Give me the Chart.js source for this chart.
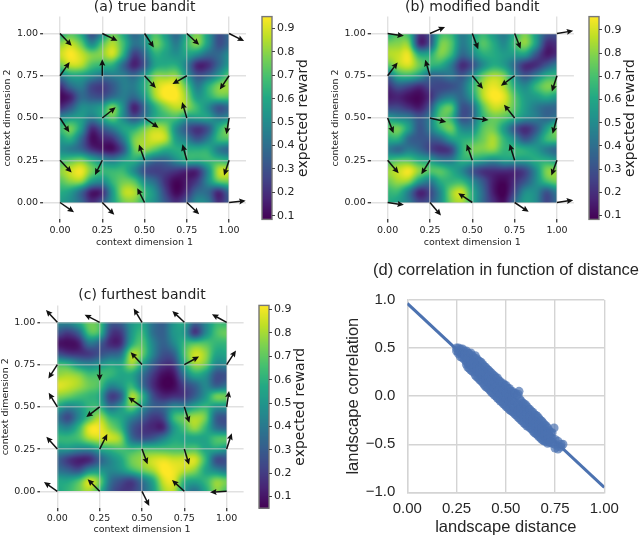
<!DOCTYPE html>
<html>
<head>
<meta charset="utf-8">
<script src="https://cdn.jsdelivr.net/npm/chart.js@4"></script>
<style>
html, body { margin: 0; background: #fff; overflow: hidden; width: 640px; height: 537px; }
canvas { position: absolute; }
</style>
</head>
<body>
<canvas id="heatA" style="left:0;top:0" width="290" height="250"></canvas>
<canvas id="barA" style="left:255px;top:0" width="65" height="250"></canvas>
<canvas id="heatB" style="left:328px;top:0" width="262" height="250"></canvas>
<canvas id="barB" style="left:583px;top:0" width="57" height="250"></canvas>
<canvas id="heatC" style="left:-2px;top:288px" width="262" height="249"></canvas>
<canvas id="barC" style="left:252px;top:288px" width="65" height="249"></canvas>
<canvas id="corr" style="left:340px;top:255px" width="332" height="282"></canvas>
<script>
// landscape grids, top row is context dimension 2 = 1.00, step 1/16
const rewardA = [
  [.6,.72,.6,.3,.5,.75,.6,.38,.5,.7,.55,.38,.6,.78,.55,.3,.38],
  [.8,.87,.75,.5,.72,.85,.68,.42,.5,.75,.62,.45,.66,.78,.55,.3,.38],
  [.88,.95,.88,.78,.8,.88,.62,.25,.38,.62,.58,.52,.58,.5,.38,.38,.5],
  [.75,.87,.85,.7,.65,.62,.38,.17,.32,.58,.62,.62,.45,.18,.2,.38,.55],
  [.45,.58,.58,.5,.42,.45,.45,.38,.55,.78,.8,.8,.55,.32,.38,.55,.72],
  [.2,.38,.45,.28,.24,.33,.45,.45,.62,.85,.94,.92,.72,.45,.62,.78,.82],
  [.1,.17,.38,.32,.3,.4,.45,.38,.55,.82,.95,.95,.8,.55,.62,.72,.72],
  [.2,.32,.5,.5,.58,.77,.5,.17,.38,.62,.78,.86,.8,.66,.5,.32,.38],
  [.5,.56,.56,.45,.58,.72,.5,.32,.45,.62,.68,.68,.55,.56,.56,.45,.5],
  [.66,.76,.55,.2,.32,.45,.58,.62,.76,.85,.8,.5,.32,.22,.32,.62,.78],
  [.56,.62,.38,.12,.17,.22,.45,.76,.84,.9,.85,.56,.45,.32,.45,.66,.7],
  [.5,.45,.38,.22,.15,.13,.32,.72,.8,.72,.62,.62,.62,.62,.62,.45,.38],
  [.66,.72,.76,.62,.5,.45,.56,.62,.5,.38,.38,.5,.62,.62,.66,.66,.62],
  [.8,.88,.93,.76,.66,.66,.66,.5,.3,.25,.25,.22,.18,.2,.5,.85,.88],
  [.72,.8,.8,.56,.5,.66,.76,.72,.5,.38,.2,.1,.15,.25,.5,.72,.76],
  [.62,.56,.38,.15,.2,.56,.84,.85,.66,.5,.25,.1,.2,.38,.38,.2,.38],
  [.56,.5,.38,.2,.32,.56,.76,.78,.62,.5,.32,.2,.32,.5,.45,.2,.32]
];
const rewardB = [
  [.62,.72,.66,.22,.3,.66,.66,.45,.56,.66,.55,.45,.62,.78,.56,.32,.3],
  [.78,.8,.78,.2,.32,.76,.72,.45,.56,.72,.62,.5,.68,.8,.56,.2,.2],
  [.85,.88,.92,.62,.62,.78,.66,.38,.48,.62,.62,.56,.56,.56,.32,.15,.2],
  [.72,.85,.9,.76,.66,.62,.45,.2,.3,.5,.62,.56,.38,.2,.2,.32,.45],
  [.38,.62,.66,.56,.38,.38,.42,.32,.5,.75,.85,.78,.5,.32,.45,.62,.66],
  [.2,.32,.27,.2,.27,.27,.3,.38,.62,.85,.93,.85,.62,.5,.66,.78,.76],
  [.15,.17,.12,.1,.2,.38,.45,.38,.56,.85,.96,.92,.72,.56,.56,.62,.56],
  [.27,.27,.2,.15,.32,.66,.72,.32,.38,.72,.88,.85,.72,.56,.45,.38,.38],
  [.56,.5,.45,.32,.45,.72,.66,.32,.38,.66,.76,.72,.62,.5,.45,.38,.45],
  [.72,.76,.56,.32,.45,.66,.76,.5,.5,.72,.76,.56,.32,.2,.32,.56,.76],
  [.62,.62,.38,.32,.32,.38,.56,.62,.66,.76,.84,.66,.5,.32,.45,.66,.72],
  [.45,.38,.45,.38,.27,.2,.27,.62,.76,.78,.8,.66,.66,.62,.56,.45,.38],
  [.66,.72,.72,.62,.56,.45,.45,.62,.62,.56,.5,.56,.56,.56,.62,.62,.56],
  [.82,.88,.94,.8,.72,.72,.62,.5,.32,.22,.2,.2,.2,.27,.5,.78,.8],
  [.76,.83,.8,.56,.45,.62,.66,.66,.5,.32,.15,.1,.2,.32,.5,.68,.76],
  [.66,.66,.45,.18,.27,.5,.8,.88,.62,.38,.15,.08,.27,.5,.5,.32,.45],
  [.62,.56,.45,.27,.32,.5,.78,.84,.62,.38,.2,.12,.38,.56,.5,.27,.38]
];
const rewardC = [
  [.45,.45,.56,.72,.66,.32,.32,.5,.56,.38,.32,.5,.56,.32,.45,.62,.62],
  [.27,.2,.32,.66,.62,.22,.2,.5,.62,.38,.32,.5,.5,.2,.45,.66,.72],
  [.1,.08,.12,.38,.32,.15,.17,.56,.68,.45,.32,.45,.62,.68,.68,.62,.62],
  [.27,.2,.18,.2,.27,.32,.38,.8,.72,.45,.27,.32,.66,.85,.78,.56,.56],
  [.66,.62,.5,.45,.5,.56,.56,.78,.56,.32,.18,.2,.56,.78,.72,.45,.45],
  [.78,.8,.76,.66,.66,.62,.56,.56,.38,.2,.08,.1,.38,.56,.5,.27,.27],
  [.88,.85,.8,.72,.66,.45,.5,.62,.38,.17,.06,.07,.22,.32,.45,.32,.38],
  [.76,.72,.66,.62,.56,.22,.32,.8,.62,.27,.15,.17,.2,.32,.5,.72,.72],
  [.56,.45,.5,.62,.62,.38,.5,.72,.5,.32,.32,.45,.45,.56,.62,.5,.5],
  [.38,.25,.45,.66,.8,.62,.56,.45,.32,.2,.25,.62,.72,.8,.72,.32,.27],
  [.5,.45,.62,.88,.9,.76,.62,.32,.2,.15,.15,.5,.66,.78,.62,.38,.32],
  [.62,.62,.66,.8,.85,.85,.76,.38,.27,.3,.42,.56,.56,.56,.56,.66,.68],
  [.5,.5,.45,.45,.56,.62,.66,.62,.66,.66,.66,.66,.66,.68,.56,.56,.5],
  [.32,.2,.13,.15,.32,.45,.56,.72,.78,.85,.88,.85,.85,.86,.62,.27,.27],
  [.38,.32,.27,.45,.5,.45,.5,.62,.72,.8,.92,.9,.83,.76,.56,.45,.38],
  [.56,.56,.66,.85,.72,.38,.27,.22,.38,.56,.85,.88,.62,.56,.62,.76,.72],
  [.56,.62,.72,.8,.62,.32,.2,.2,.32,.5,.78,.82,.5,.38,.56,.76,.66]
];

// arrow offsets, rows from y = 1.00 down to 0.00, columns x = 0 .. 1
const arrowPos = [0, 0.25, 0.5, 0.75, 1];
const arrowsAdx = [.069,.09,.055,.073,.089, .057,0,.067,-.085,-.055, .055,.079,.083,-.028,-.016, .069,-.043,-.033,-.026,-.03, .083,.071,-.043,.073,.098];
const arrowsAdy = [-.073,-.043,-.083,-.067,-.045, .081,.098,-.073,-.049,-.081, -.085,.063,-.057,.094,-.096, -.073,-.087,.093,.094,-.09, -.057,-.073,.085,-.069,.01];
const arrowsBdx = [.096,.089,.035,.035,.096, .059,-.028,.063,-.081,-.03, .035,.096,.096,-.063,-.026, .065,-.051,-.033,-.03,-.033, .096,.065,-.083,.083,.096];
const arrowsBdy = [-.014,.039,-.093,-.09,.016, .079,.094,-.077,-.059,-.093, -.09,-.024,-.012,.079,-.093, -.077,-.083,.094,.096,-.09, -.014,-.077,.055,-.055,.014];
const arrowsCdx = [-.067,-.089,-.049,-.071,-.087, -.053,0,-.067,.087,.055, -.051,-.079,-.081,.03,.014, -.065,.045,.033,.028,.03, -.079,-.071,.043,-.073,-.098];
const arrowsCdy = [.073,.045,.081,.067,.047, -.083,-.096,.073,.047,.083, .083,-.061,.057,-.094,.094, .073,.089,-.09,-.093,.093, .055,.071,-.087,.067,-.006];

const contextTicks = [0, 0.25, 0.5, 0.75, 1];
const rewardTicks = [0.1, 0.2, 0.3, 0.4, 0.5, 0.6, 0.7, 0.8, 0.9];

const corrTicksX = [0, 0.25, 0.5, 0.75, 1];
const corrTicksY = [-1, -0.5, 0, 0.5, 1];
const fitX = [0, 1];
const fitY = [0.965, -0.95];
const distances = [.25,.25,.26,.26,.26,.27,.27,.27,.28,.28,.28,.29,.29,.29,.30,.30,.30,.30,.315,.315,.315,.315,.33,.33,.33,.33,.345,.345,.345,.345,.36,.36,.36,.36,.375,.375,.375,.375,.39,.39,.39,.39,.405,.405,.405,.405,.42,.42,.42,.42,.435,.435,.435,.435,.45,.45,.45,.45,.465,.465,.465,.465,.48,.48,.48,.48,.495,.495,.495,.495,.51,.51,.51,.51,.525,.525,.525,.525,.54,.54,.54,.54,.555,.555,.555,.555,.567,.57,.57,.57,.57,.585,.585,.585,.585,.60,.60,.60,.60,.615,.615,.615,.615,.63,.63,.63,.63,.645,.645,.645,.645,.66,.66,.66,.66,.675,.675,.675,.675,.69,.69,.69,.69,.705,.705,.705,.705,.72,.72,.72,.72,.735,.735,.735,.745,.75,.75,.75,.765,.765,.765,.78,.78,.79,
  .2925,.2925,.3075,.3075,.3075,.3075,.3225,.3225,.3225,.3225,.3375,.3375,.3375,.3375,.3525,.3525,.3525,.3525,.3675,.3675,.3675,.3675,.3825,.3825,.3825,.3825,.3975,.3975,.3975,.3975,.4125,.4125,.4125,.4125,.4275,.4275,.4275,.4275,.4425,.4425,.4425,.4425,.4575,.4575,.4575,.4575,.4725,.4725,.4725,.4725,.4875,.4875,.4875,.4875,.5025,.5025,.5025,.5025,.5175,.5175,.5175,.5175,.5325,.5325,.5325,.5325,.5475,.5475,.5475,.5475,.5625,.5625,.5625,.5625,.5775,.5775,.5775,.5775,.5925,.5925,.5925,.5925,.6075,.6075,.6075,.6075,.6225,.6225,.6225,.6225,.6375,.6375,.6375,.6375,.6525,.6525,.6525,.6525,.6675,.6675,.6675,.6675,.6825,.6825,.6825,.6825,.6975,.6975,.6975,.6975,.7125,.7125,.7125,.7125,.7275,.7275,.7275];
const correlations = [.50,.47,.50,.46,.44,.49,.45,.41,.49,.44,.40,.47,.42,.38,.47,.41,.36,.33,.44,.38,.33,.29,.42,.36,.31,.26,.42,.34,.28,.22,.37,.31,.25,.19,.35,.28,.22,.16,.31,.25,.18,.12,.28,.22,.16,.09,.25,.19,.13,.06,.22,.16,.09,.03,.19,.13,.06,.00,.16,.10,.03,-.03,.13,.07,.01,-.06,.11,.04,-.02,-.09,.08,.02,-.05,-.12,.05,-.02,-.08,-.15,.03,-.05,-.11,-.17,.01,-.07,-.14,-.20,.05,-.03,-.10,-.17,-.23,-.07,-.13,-.20,-.26,-.09,-.16,-.22,-.29,-.13,-.19,-.25,-.31,-.16,-.22,-.28,-.34,-.19,-.25,-.31,-.38,-.21,-.28,-.34,-.40,-.25,-.31,-.37,-.43,-.28,-.34,-.40,-.46,-.31,-.37,-.43,-.47,-.36,-.41,-.46,-.48,-.38,-.44,-.49,-.33,-.45,-.50,-.54,-.47,-.52,-.55,-.50,-.53,-.50,
  .44,.40,.45,.39,.34,.30,.45,.37,.32,.27,.40,.35,.29,.25,.39,.31,.26,.20,.36,.29,.23,.17,.33,.26,.20,.14,.30,.24,.17,.10,.27,.20,.14,.08,.24,.17,.11,.04,.21,.15,.08,.01,.19,.11,.05,-.02,.15,.09,.02,-.05,.13,.06,-.01,-.08,.11,.03,-.03,-.11,.08,.00,-.06,-.14,.05,-.03,-.09,-.16,.03,-.06,-.13,-.19,.02,-.09,-.15,-.22,-.05,-.12,-.19,-.25,-.08,-.15,-.21,-.28,-.11,-.18,-.24,-.31,-.14,-.21,-.27,-.33,-.17,-.24,-.30,-.36,-.20,-.27,-.33,-.39,-.23,-.30,-.36,-.42,-.26,-.33,-.39,-.45,-.30,-.36,-.42,-.47,-.33,-.39,-.45,-.49,-.38,-.43,-.48];

const viridisStops = ['#440154','#482475','#414487','#355f8d','#2a788e','#21918c','#22a884','#44bf70','#7ad151','#bddf26','#fde725'];
const viridisRgb = viridisStops.map(h => [1, 3, 5].map(i => parseInt(h.substr(i, 2), 16)));

function viridis(t) {
    t = Math.max(0, Math.min(1, t)) * (viridisRgb.length - 1);
    let i = Math.min(Math.floor(t), viridisRgb.length - 2);
    let f = t - i;
    return viridisRgb[i].map((c, k) => c + (viridisRgb[i + 1][k] - c) * f);
}

function cubic(a, b, c, d, t) {
    return 0.5 * (2 * b + (c - a) * t + (2 * a - 5 * b + 4 * c - d) * t * t + (3 * b - a - 3 * c + d) * t * t * t);
}

function sampleGrid(grid, u, v) {
    let n = grid.length - 1;
    let fx = u * n, fy = v * n;
    let ix = Math.min(Math.floor(fx), n - 1), iy = Math.min(Math.floor(fy), n - 1);
    let col = [];
    for (let r = -1; r <= 2; r++) {
        let row = grid[Math.max(0, Math.min(n, iy + r))];
        let at = k => row[Math.max(0, Math.min(n, ix + k))];
        col.push(cubic(at(-1), at(0), at(1), at(2), fx - ix));
    }
    return cubic(col[0], col[1], col[2], col[3], fy - iy);
}

function heatPlugin(grid, vmin, vmax) {
    return {
        id: 'heat',
        beforeDraw(chart) {
            let xs = chart.scales.x, ys = chart.scales.y;
            let x0 = xs.getPixelForValue(0), x1 = xs.getPixelForValue(1);
            let y1 = ys.getPixelForValue(1), y0 = ys.getPixelForValue(0);
            let w = Math.round(x1 - x0), h = Math.round(y0 - y1);
            let off = document.createElement('canvas');
            off.width = w; off.height = h;
            let octx = off.getContext('2d');
            let img = octx.createImageData(w, h);
            for (let j = 0; j < h; j++) {
                for (let i = 0; i < w; i++) {
                    let val = sampleGrid(grid, (i + 0.5) / w, (j + 0.5) / h);
                    let c = viridis((val - vmin) / (vmax - vmin));
                    let p = (j * w + i) * 4;
                    img.data[p] = c[0]; img.data[p + 1] = c[1]; img.data[p + 2] = c[2]; img.data[p + 3] = 255;
                }
            }
            octx.putImageData(img, 0, 0);
            chart.ctx.drawImage(off, x0, y1, x1 - x0, y0 - y1);
        }
    };
}

function quiverPlugin(dx, dy) {
    return {
        id: 'quiver',
        afterDatasetsDraw(chart) {
            let ctx = chart.ctx, xs = chart.scales.x, ys = chart.scales.y;
            ctx.save();
            ctx.fillStyle = '#111';
            ctx.strokeStyle = '#111';
            ctx.lineWidth = 1.5;
            chart.data.datasets[0].data.forEach((pt, i) => {
                let tx = xs.getPixelForValue(pt.x), ty = ys.getPixelForValue(pt.y);
                let hx = xs.getPixelForValue(pt.x + dx[i]), hy = ys.getPixelForValue(pt.y + dy[i]);
                let a = Math.atan2(hy - ty, hx - tx);
                let len = Math.hypot(hx - tx, hy - ty) - 6;
                ctx.save();
                ctx.translate(tx, ty);
                ctx.rotate(a);
                ctx.beginPath();
                ctx.moveTo(0, 0);
                ctx.lineTo(len + 1, 0);
                ctx.stroke();
                ctx.beginPath();
                ctx.moveTo(len + 6, 0);
                ctx.lineTo(len - 0.5, -3);
                ctx.lineTo(len + 0.5, 0);
                ctx.lineTo(len - 0.5, 3);
                ctx.closePath();
                ctx.fill();
                ctx.restore();
            });
            ctx.restore();
        }
    };
}

function heatChart(id, text, grid, vmin, vmax, dx, dy, box) {
    let pts = [];
    arrowPos.slice().reverse().forEach(y => arrowPos.forEach(x => pts.push({x: x, y: y})));
    let tickFont = {family: 'DejaVu Sans', size: 9.5};
    let setTicks = s => { s.ticks = contextTicks.map(v => ({value: v})); };
    let axis = extra => Object.assign({
        min: -0.1, max: 1.1,
        afterBuildTicks: setTicks,
        border: {display: false},
        grid: {color: 'rgba(200,200,200,0.55)', lineWidth: 1.4, tickColor: '#444', tickLength: 3},
        ticks: {font: tickFont, color: '#222', padding: 2, autoSkip: false, maxRotation: 0, callback: v => v.toFixed(2)}
    }, extra);
    new Chart(document.getElementById(id), {
        type: 'scatter',
        data: {datasets: [{data: pts, pointRadius: 0}]},
        plugins: [heatPlugin(grid, vmin, vmax), quiverPlugin(dx, dy)],
        options: {
            responsive: false, animation: false, events: [],
            layout: {padding: {left: 0, top: 0, bottom: 0, right: box.right}},
            plugins: {
                legend: {display: false}, tooltip: {enabled: false},
                title: {display: true, text: text, fullSize: false, color: '#222',
                    font: {family: 'DejaVu Sans', size: 14, weight: 'normal', lineHeight: 1},
                    padding: {top: box.titleTop, bottom: box.titleBottom}}
            },
            scales: {
                x: axis({
                    title: {display: true, text: 'context dimension 1', color: '#222', font: tickFont, padding: {top: 0, bottom: 1.3}},
                    afterFit(s) { s.height = box.xHeight; s.paddingLeft = s.paddingRight = 0; }
                }),
                y: axis({
                    title: {display: true, text: 'context dimension 2', color: '#222', font: tickFont, padding: {top: 1.8, bottom: 0}},
                    afterFit(s) { s.width = box.yWidth; s.paddingTop = s.paddingBottom = 0; }
                })
            }
        }
    });
}

function colorBar(id, vmin, vmax, box) {
    let barPlugin = {
        id: 'bar',
        beforeDraw(chart) {
            let ctx = chart.ctx, a = chart.chartArea, ys = chart.scales.y;
            for (let p = Math.floor(a.top); p < a.bottom; p++) {
                let c = viridis((ys.getValueForPixel(p + 0.5) - vmin) / (vmax - vmin));
                ctx.fillStyle = 'rgb(' + c.join(',') + ')';
                ctx.fillRect(a.left, p, a.right - a.left, 1);
            }
            ctx.strokeStyle = '#777';
            ctx.lineWidth = 1.4;
            ctx.strokeRect(a.left, a.top, a.right - a.left, a.bottom - a.top);
        },
        afterDraw(chart) {
            let ctx = chart.ctx;
            ctx.save();
            ctx.translate(box.labelX, (chart.chartArea.top + chart.chartArea.bottom) / 2);
            ctx.rotate(-Math.PI / 2);
            ctx.font = '14px "DejaVu Sans"';
            ctx.fillStyle = '#222';
            ctx.textAlign = 'center';
            ctx.textBaseline = 'middle';
            ctx.fillText('expected reward', 0, 0);
            ctx.restore();
        }
    };
    new Chart(document.getElementById(id), {
        type: 'scatter',
        data: {datasets: []},
        plugins: [barPlugin],
        options: {
            responsive: false, animation: false, events: [],
            layout: {padding: {left: box.left, top: box.top, bottom: box.bottom, right: 0}},
            plugins: {legend: {display: false}, tooltip: {enabled: false}},
            scales: {
                x: {display: false},
                y: {
                    position: 'right', min: vmin, max: vmax,
                    afterBuildTicks(s) { s.ticks = rewardTicks.map(v => ({value: v})); },
                    afterFit(s) { s.width = box.axis; s.paddingTop = s.paddingBottom = 0; },
                    border: {display: false},
                    grid: {drawOnChartArea: false, tickColor: '#444', tickLength: 3},
                    ticks: {font: {family: 'DejaVu Sans', size: 11}, color: '#222', padding: 2, autoSkip: false, callback: v => v.toFixed(1)}
                }
            }
        }
    });
}

heatChart('heatA', '(a) true bandit', rewardA, .085, .95, arrowsAdx, arrowsAdy, {right: 44, titleTop: 0.5, titleBottom: 2.1, xHeight: 30.6, yWidth: 43.1});
colorBar('barA', .085, .95, {left: 7, top: 16.6, bottom: 30.6, axis: 48, labelX: 48});

heatChart('heatB', '(b) modified bandit', rewardB, .083, .957, arrowsBdx, arrowsBdy, {right: 16.1, titleTop: 0.5, titleBottom: 2.1, xHeight: 30.6, yWidth: 42.7});
colorBar('barB', .083, .957, {left: 6, top: 16.6, bottom: 30.6, axis: 41, labelX: 47.7});

heatChart('heatC', '(c) furthest bandit', rewardC, .05, .918, arrowsCdx, arrowsCdy, {right: 16.4, titleTop: 0.5, titleBottom: 2.9, xHeight: 28.8, yWidth: 42.4});
colorBar('barC', .05, .918, {left: 7, top: 17.4, bottom: 28.8, axis: 48, labelX: 48.7});

const corrPoints = distances.map((d, i) => ({x: d, y: correlations[i]}));
const corrFont = {family: 'Liberation Sans', size: 15};
const corrGrid = {color: '#d4d4d4', lineWidth: 1.4, drawTicks: false};
new Chart(document.getElementById('corr'), {
    type: 'scatter',
    data: {
        datasets: [
            {data: corrPoints, pointRadius: 4.5, borderWidth: 0, backgroundColor: 'rgba(76,114,176,0.7)'},
            {data: fitX.map((x, i) => ({x: x, y: fitY[i]})), showLine: true, pointRadius: 0, borderColor: '#4c72b0', borderWidth: 3}
        ]
    },
    options: {
        responsive: false, animation: false, events: [],
        plugins: {
            legend: {display: false}, tooltip: {enabled: false},
            title: {display: true, text: '(d) correlation in function of distance', color: '#262626',
                font: {family: 'Liberation Sans', size: 16.5, weight: 'normal', lineHeight: 1},
                padding: {top: 7, bottom: 21.5}}
        },
        scales: {
            x: {
                min: 0, max: 1,
                afterBuildTicks(s) { s.ticks = corrTicksX.map(v => ({value: v})); },
                afterFit(s) { s.height = 44.7; s.paddingLeft = s.paddingRight = 0; },
                border: {color: '#d4d4d4', width: 1.4},
                grid: corrGrid,
                title: {display: true, text: 'landscape distance', color: '#262626', font: {family: 'Liberation Sans', size: 16.5}, padding: {top: 0, bottom: 0}},
                ticks: {font: corrFont, color: '#262626', padding: 8, autoSkip: false, maxRotation: 0, callback: v => v.toFixed(2)}
            },
            y: {
                min: -1, max: 1,
                afterBuildTicks(s) { s.ticks = corrTicksY.map(v => ({value: v})); },
                afterFit(s) { s.width = 67.3; s.paddingTop = s.paddingBottom = 0; },
                border: {color: '#d4d4d4', width: 1.4},
                grid: corrGrid,
                title: {display: true, text: 'landscape correlation', color: '#262626', font: {family: 'Liberation Sans', size: 16.5}, padding: {top: 3.4, bottom: 0}},
                ticks: {font: corrFont, color: '#262626', padding: 12, autoSkip: false, callback: v => v.toFixed(1).replace('-', '\u2212')}
            },
            // empty right axis keeps the plot off-centre so the title sits over it
            spacer: {
                position: 'right', axis: 'y',
                border: {display: false},
                grid: {display: false},
                ticks: {display: false},
                afterFit(s) { s.width = 67.7; s.paddingTop = s.paddingBottom = 0; }
            }
        }
    }
});
</script>
</body>
</html>
